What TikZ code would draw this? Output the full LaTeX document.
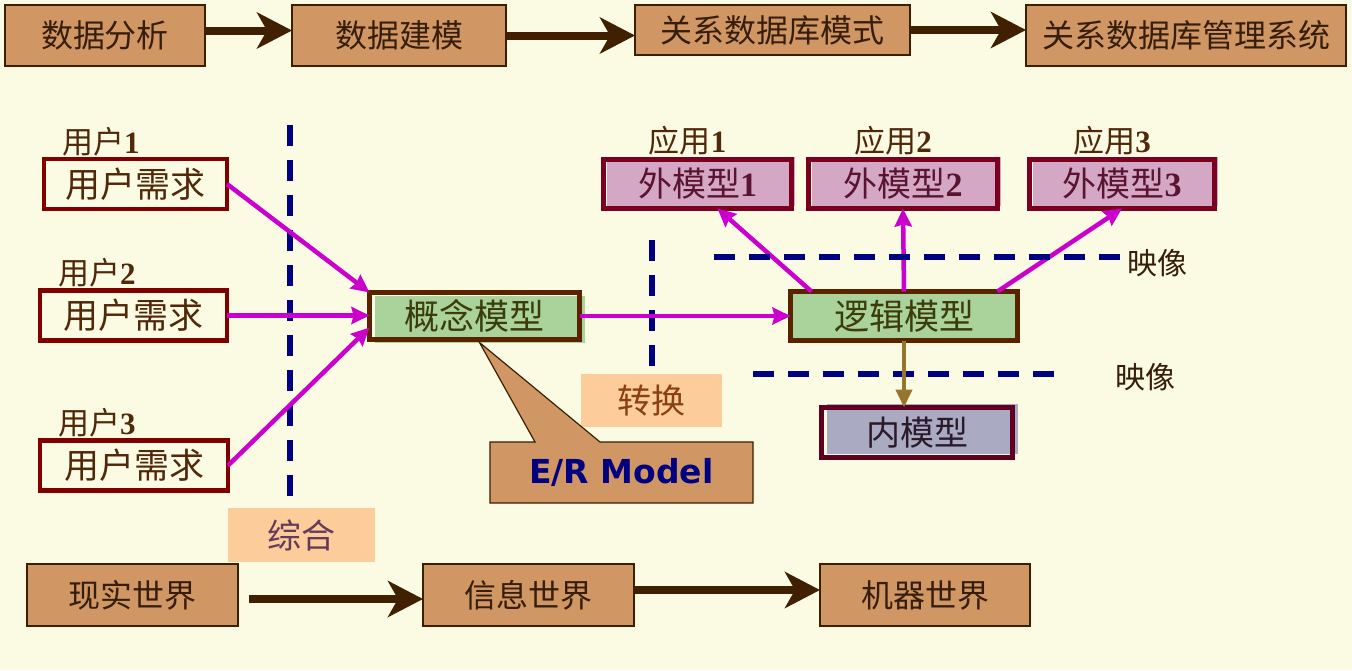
\documentclass[tikz,border=0pt]{standalone}
\usepackage{fontspec}
\setmainfont{Noto Sans CJK SC}
\newfontfamily\numfont{Liberation Serif}
\newfontfamily\erfont{DejaVu Sans}
\usetikzlibrary{positioning,calc,arrows.meta,shadows}
\definecolor{paper}{RGB}{251,250,227}
\definecolor{stagefill}{RGB}{208,151,101}
\definecolor{stageline}{RGB}{60,30,0}
\definecolor{stagetext}{RGB}{55,30,10}
\definecolor{arrowbrown}{RGB}{64,32,0}
\definecolor{reqline}{RGB}{128,0,0}
\definecolor{reqtext}{RGB}{80,40,10}
\definecolor{magentaline}{RGB}{204,0,204}
\definecolor{navyline}{RGB}{0,0,128}
\definecolor{peach}{RGB}{252,204,154}
\definecolor{greenfill}{RGB}{170,210,155}
\definecolor{greenline}{RGB}{90,35,0}
\definecolor{greentext}{RGB}{60,60,10}
\definecolor{extfill}{RGB}{212,168,196}
\definecolor{extline}{RGB}{122,0,32}
\definecolor{exttext}{RGB}{90,20,50}
\definecolor{innerfill}{RGB}{170,170,195}
\definecolor{innerline}{RGB}{96,0,32}
\definecolor{olive}{RGB}{150,118,46}
\newcommand{\bnum}[1]{{\numfont\bfseries #1}}
\tikzstyle{every node}=[inner sep=0pt,outer sep=0pt]
\tikzstyle{stage}=[draw=stageline,fill=stagefill,line width=1.2pt,text=stagetext,font=\fontsize{32}{32}\selectfont]
\tikzstyle{bigarrow}=[line width=8pt,draw=arrowbrown,-{Stealth[length=35pt,width=36pt,inset=10pt]}]
\tikzstyle{maparrow}=[line width=4.5pt,draw=magentaline,-{Stealth[length=18pt,width=17pt,inset=2pt]}]
\tikzstyle{divider}=[line width=5.5pt,draw=navyline,dash pattern=on 21pt off 14pt]
\tikzstyle{req}=[draw=reqline,line width=4.5pt,minimum height=50pt,text=reqtext,font=\fontsize{35}{35}\selectfont]
\tikzstyle{user}=[text=reqtext,font=\fontsize{31}{31}\selectfont]
\tikzstyle{model}=[draw=greenline,line width=5pt,text=greentext,font=\fontsize{35}{35}\selectfont]
\tikzstyle{ext}=[draw=extline,line width=5pt,minimum height=49pt,text=exttext,font=\fontsize{34}{34}\selectfont,general shadow={fill=extfill,shadow xshift=3pt,shadow yshift=3pt}]
\tikzstyle{tag}=[fill=peach,font=\fontsize{34}{34}\selectfont]
\tikzstyle{maplabel}=[text=stagetext,font=\fontsize{30}{30}\selectfont]

\begin{document}
\begin{tikzpicture}[x=1pt,y=-1pt]
\fill[paper] (0,0) rectangle (1352,670);
\useasboundingbox (0,0) rectangle (1352,670);

% top row
\node[stage,minimum width=200pt,minimum height=61pt] (s1) at (105,35.5) {数据分析};
\node[stage,minimum width=214pt,minimum height=61pt] (s2) at (399,35.5) {数据建模};
\node[stage,minimum width=275pt,minimum height=50pt] (s3) at (772.5,30) {关系数据库模式};
\node[stage,minimum width=320pt,minimum height=61pt] (s4) at (1186,35.5) {关系数据库管理系统};
\draw[bigarrow] ([yshift=5pt]s1.east) -- ([yshift=5pt]s1.east -| s2.west);
\draw[bigarrow] (s2.east) -- (s2.east -| s3.west);
\draw[bigarrow] (s3.east) -- (s3.east -| s4.west);

% bottom row
\node[stage,minimum width=211pt,minimum height=62pt] (w1) at (132.5,595) {现实世界};
\node[stage,minimum width=211pt,minimum height=62pt] (w2) at (528.5,595) {信息世界};
\node[stage,minimum width=210pt,minimum height=62pt] (w3) at (925,595) {机器世界};
\draw[bigarrow] ([xshift=11pt,yshift=-4pt]w1.east) -- ([yshift=-4pt]w1.east -| w2.west);
\draw[bigarrow] ([yshift=5pt]w2.east) -- ([yshift=5pt]w2.east -| w3.west);

% users
\foreach \i/\x/\y/\w in {1/135.5/184/183,2/133.5/315.5/187,3/134/465.5/188}{
  \node[req,minimum width=\w pt] (req\i) at (\x,\y) {用户需求};
  \node[user,above right=3pt and 18pt of req\i.north west] (user\i) {用户\bnum{\i}};
}
\node[tag,minimum width=147pt,minimum height=54pt,text={rgb,255:red,100;green,60;blue,90}] (syn) at (301.5,535) {综合};
\coordinate (cut1) at (290,125);
\draw[divider] (cut1) -- (cut1 |- syn.north);

% conceptual model
\node[model,minimum width=210pt,minimum height=47pt,general shadow={fill=greenfill,shadow xshift=5pt,shadow yshift=-3pt}] (concept) at (474.5,316) {概念模型};
\draw[maparrow] (req1.east) -- (concept.north west);
\draw[maparrow] (req2.east) -- (req2.east -| concept.west);
\draw[maparrow] (req3.east) -- ([yshift=12pt]concept.south west);

\node[tag,minimum width=141pt,minimum height=53pt,text={rgb,255:red,138;green,64;blue,16}] (conv) at (651.5,400.5) {转换};
\coordinate (cut2) at (652,240);
\draw[divider] (cut2) -- (cut2 |- conv.north);

% E/R callout
\coordinate (ertip) at ([xshift=5pt,yshift=-3pt]concept.south);
\coordinate (erc) at (621.5,472.5);
\draw[fill=stagefill,draw=stageline,line width=1.2pt] ($(erc)+(-131.5,-30.5)$) -- ($(erc)+(-86.5,-30.5)$) -- (ertip) -- ($(erc)+(-21.5,-30.5)$) -- ($(erc)+(131.5,-30.5)$) -- ($(erc)+(131.5,30.5)$) -- ($(erc)+(-131.5,30.5)$) -- cycle;
\node[text=navyline,font=\erfont\bfseries\fontsize{33}{33}\selectfont] (er) at (erc) {E/R Model};

% logical model and external models
\node[model,minimum width=227pt,minimum height=49pt,general shadow={fill=greenfill,shadow xshift=-3pt}] (logic) at (904,316) {逻辑模型};
\draw[maparrow] (concept.east) -- (concept.east -| logic.west);
\foreach \i/\x/\w in {1/697.5/188,2/903/189,3/1122/185}{
  \node[ext,minimum width=\w pt] (ext\i) at (\x,184) {外模型\bnum{\i}};
  \node[user,above=4pt of ext\i,xshift=-10pt] (app\i) {应用\bnum{\i}};
}
\draw[maparrow] ([xshift=21pt]logic.north west) -- ([xshift=20pt]ext1.south);
\draw[maparrow] (logic.north) -- (ext2.south);
\draw[maparrow] ([xshift=-20pt]logic.north east) -- (ext3.south);

\node[maplabel] (map1) at (1157,263) {映像};
\node[maplabel] (map2) at (1145,377) {映像};
\coordinate (cut3) at (714,257);
\draw[divider] (cut3) -- (cut3 -| map1.west);
\coordinate (cut4) at (753,374);
\draw[divider] (cut4) -- ++(312,0);

% internal model
\node[draw=innerline,line width=5pt,minimum width=191pt,minimum height=50pt,text={rgb,255:red,42;green,26;blue,42},font=\fontsize{34}{34}\selectfont,general shadow={fill=innerfill,shadow xshift=5pt,shadow yshift=4pt}] (inner) at (917,432.5) {内模型};
\draw[line width=4pt,draw=olive,-{Triangle[length=18pt,width=16pt]}] (logic.south) -- (logic.south |- inner.north);
\end{tikzpicture}
\end{document}
